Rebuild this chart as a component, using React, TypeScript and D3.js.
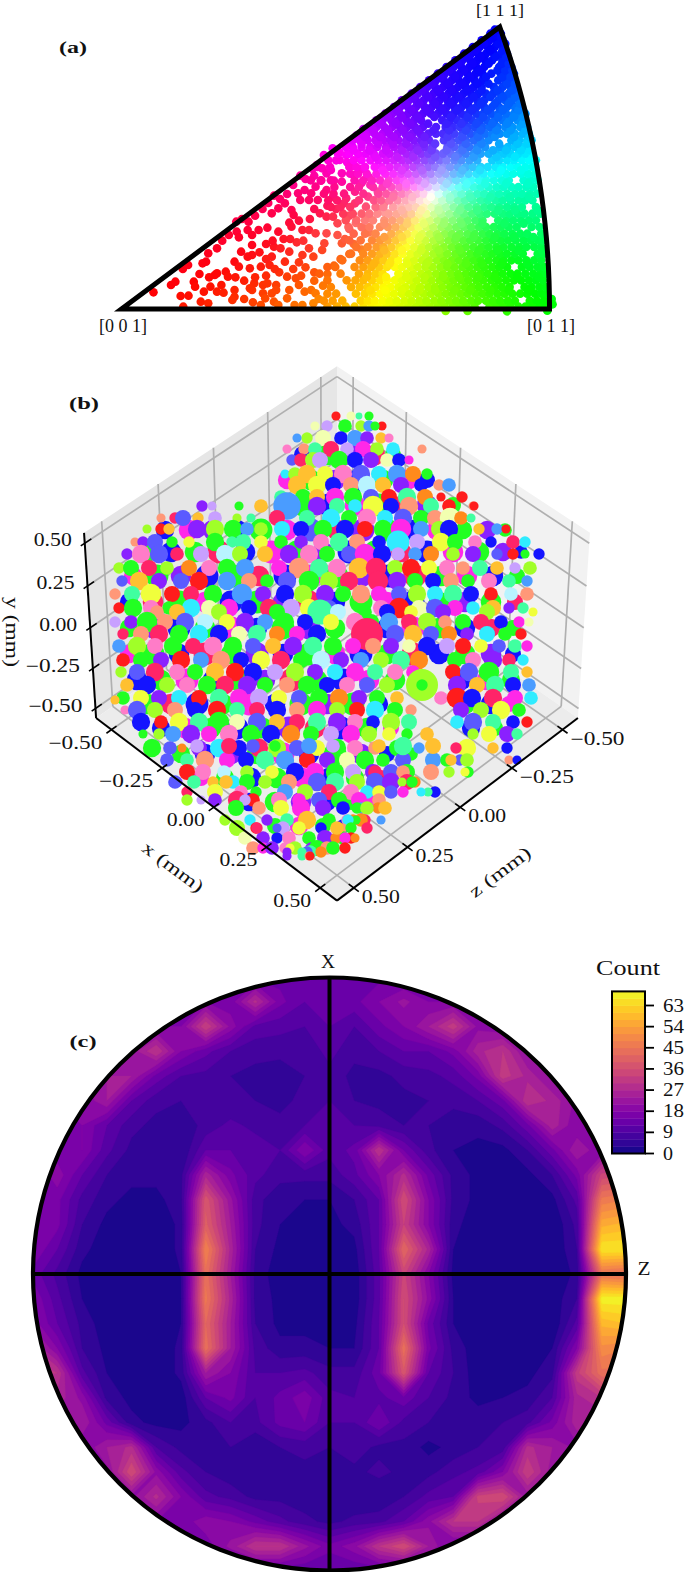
import React from "react";
import * as d3 from "d3";

const FONT = "'Liberation Serif', serif";

// ---------- (a) inverse pole figure: grain directions in stereographic plot units ----------
const ipfDomainX = [0, 977];
const ipfDomainY = [0, 846];
const ipfLabels = ["[0 0 1]", "[0 1 1]", "[1 1 1]"];
const ipfSparse = [
[73,50],[113,72],[123,82],[135,39],[153,40],[141,7],[165,82],[168,67],[188,52],[181,22],[198,17],[203,67],[213,102],[218,107],[228,72],[238,112],[243,97],[218,52],[233,49],[258,57],[258,37],[253,27],[198,167],[193,142],[185,137],[218,182],[263,232],[268,215],[288,237],[298,222],[313,237],[333,244],[358,232],[273,172],[298,192],[298,162],[288,157],[258,142],[268,127],[293,122],[318,127],[338,132],[343,157],[348,187],[363,182],[383,172],[373,142],[303,77],[298,57],[293,62],[323,72],[333,77],[353,72],[378,97],[398,92],[323,47],[343,47],[328,32],[353,57],[383,57],[378,32],[348,22],[358,12],[413,162],[428,182],[438,157],[458,177],[418,52],[433,57],[443,47],[438,17],[413,12],[383,259],[388,247],[413,237],[428,237],[453,287],[468,277],[483,277],[493,257],[443,227],[468,227],[493,222],[503,197],[463,197],[343,287],[358,302],[373,317],[388,297],[403,347],[418,357],[433,347],[443,367],[448,327],[428,327],[408,327],[393,282],[458,422],[468,407],[478,417],[498,447],[513,462],[503,407],[503,382],[468,357],[483,337],[513,332],[533,352],[533,317],[508,317],[563,337],[558,307],[563,277],[740,-6],[790,-6],[880,-7],[972,-5],[982,30],[984,14],
[140,120],[152,132],[230,205],[245,222],[262,262],[275,270],[290,262],[305,280],[322,300],[335,318],[348,340],[362,330],[378,345],[392,372],[408,400],[420,390],[436,420],[446,432],[462,462],[482,482],[498,470],[520,500],[536,520],[552,540],[528,430],[545,450],[515,440],[530,402],[548,420],[565,395],[548,378],[568,372],[585,352],[600,318],[585,300],[600,290],[520,280],[535,258],[550,245],[565,230],[520,240],[510,210],[530,195],[548,178],[520,165],[500,150],[485,130],[470,105],[440,110],[420,125],[405,140],[392,120],[360,110],[330,100],[305,95],[280,85],[260,95],[400,200],[385,210],[415,205],[430,270],[440,300],[405,265],[470,310],[490,300],[440,400],[455,385],[485,385],[405,72],[440,85],[460,70],[450,30],[395,12],[280,30],[300,20],[318,12],[200,95],[178,105],[345,205],[330,195],[315,170],[330,150],[350,120],[370,210],[410,100]
];
const ipfRows: [number, number[]][] = [
[7,[470,492,512,532,552,570,586,604,620,636,654,672,688,704,722,738,756,772,788,806,840,856,872,888,906,922,938,954,968]],
[25,[462,482,504,546,562,578,596,612,628,646,662,680,696,714,730,748,764,780,798,814,832,848,864,882,898,932,948,964]],
[46,[470,490,535,555,572,590,606,622,640,656,672,690,706,724,740,756,774,790,808,824,840,858,874,892,910,926,944,958,970]],
[66,[478,524,544,562,580,598,614,632,648,666,682,700,716,732,750,766,784,800,816,834,852,868,886,920,936,954,968]],
[86,[470,514,534,552,572,590,606,624,640,658,674,692,708,726,742,758,776,792,810,826,844,860,878,896,912,930,946,962]],
[106,[452,500,542,562,580,596,632,650,666,684,700,718,734,752,768,786,802,820,836,854,870,888,904,922,940,956,970]],
[126,[470,488,532,552,570,588,606,624,640,660,676,694,710,728,744,760,778,794,812,828,846,862,880,914,932,950,964]],
[146,[504,544,562,582,598,616,632,652,668,686,702,720,736,754,770,788,804,820,838,856,872,890,906,924,942,958]],
[166,[524,552,572,590,606,624,642,660,676,694,712,728,744,762,778,796,812,830,846,864,880,898,916,950,964]],
[186,[536,562,582,598,616,634,650,668,686,702,718,736,754,770,786,804,822,838,856,872,890,908,924,942,958]],
[206,[520,546,572,590,608,626,644,660,678,694,712,728,746,762,780,796,814,832,848,866,882,900,918,934,950,962]],
[226,[530,556,580,616,634,652,670,686,704,720,738,754,772,790,806,824,840,858,874,892,910,926,958]],
[246,[518,548,566,590,608,626,644,662,678,696,712,730,746,764,782,798,816,832,850,866,884,902,936,954]],
[266,[512,536,556,574,600,618,636,654,670,688,704,722,738,756,774,790,808,824,860,878,894,912,930,946]],
[286,[506,528,548,566,584,610,628,646,662,680,696,714,730,748,766,782,800,818,834,852,870,886,904,920,938,956]],
[306,[478,500,522,580,598,620,638,656,672,690,708,724,740,758,776,792,810,828,844,862,880,896,914,946]],
[326,[472,492,542,576,592,612,630,648,664,682,698,716,732,750,768,784,802,820,836,854,870,888,906,922,938]],
[346,[462,484,508,552,586,604,622,640,656,674,690,708,724,742,760,776,794,812,828,846,862,880,898,914,932,948]],
[366,[486,522,542,574,596,616,634,650,668,684,700,718,736,752,770,786,804,820,838,856,872,890,906,924,940]],
[386,[432,456,478,532,552,572,590,610,628,644,662,678,696,712,730,748,764,782,798,816,832,850,868,884,918,934,950]],
[406,[522,540,560,582,602,620,638,654,672,690,706,724,740,758,774,792,810,826,844,860,878,894,912,928,944]],
[426,[448,476,520,536,556,578,594,612,630,648,666,682,700,716,734,750,768,786,802,820,836,854,870,888,904,922,938]],
[446,[472,490,530,548,568,586,604,622,640,656,674,692,708,726,742,760,776,794,812,846,862,880,896,914,930,946]],
[466,[494,520,540,558,576,596,612,630,650,666,684,700,718,734,752,770,786,804,820,838,856,872,888,906,922,938]],
[486,[512,528,548,568,584,604,622,640,658,674,692,710,744,760,778,794,812,830,864,882,898,916,932]],
[506,[528,544,562,580,598,614,632,650,668,684,702,736,752,770,786,804,820,838,890,908,926,936]],
[526,[546,560,578,596,612,630,648,664,682,700,718,734,760,778,796,812,830,846,864,880,898,916,930]],
[546,[566,582,600,618,636,652,670,688,718,740,756,772,790,806,824,840,858,876,892,910,926]],
[566,[582,596,616,632,650,668,684,732,750,766,784,800,818,834,852,870,886,904,920]],
[586,[602,618,636,654,670,688,706,722,742,758,776,792,810,826,844,860,878,896,912,922]],
[606,[622,636,654,672,692,708,726,742,760,776,794,810,828,846,862,880,898,914]],
[626,[640,656,672,690,710,726,744,760,778,794,812,828,860,876,892,908]],
[646,[662,676,694,712,728,746,762,780,798,814,832,848,866,884,902]],
[666,[682,698,716,734,750,768,786,804,822,850,870,888,900]],
[686,[702,718,736,754,770,788,806,824,860,876,892]],
[706,[722,738,756,772,790,808,824,844,866,884,896]],
[726,[742,758,776,794,810,828,862,878,890]],
[746,[762,778,796,812,830,846,870,884]],
[766,[782,798,814,832,850,866,880]],
[786,[802,818,836,852,872]],
[806,[822,840,856,870]],
[826,[842,856,866]],
[838,[852,860]],
// further grains seen between the rows above
[56,[568,602,640,680,716,760,796,842,884,930]],
[96,[560,604,650,692,734,770,814,852,904,952]],
[136,[576,612,652,696,744,786,822,868,926]],
[176,[600,640,684,724,772,816,858,906,960]],
[216,[600,640,680,724,764,804,852,896,940]],
[256,[600,652,690,736,776,824,874,918]],
[296,[640,684,724,772,812,860,898,950]],
[336,[620,664,706,750,796,842,886,930]],
[376,[606,650,692,742,788,830,878,928]],
[416,[596,640,686,730,778,818,866,912]],
[456,[580,630,666,716,762,804,856,898,940]],
[476,[530,566,604,640,676,708,742,778,812,848,878,912,932]],
[496,[548,586,620,650,690,716,752,786,822,862,904,926]],
[516,[556,590,622,658,692,744,778,814,852,896,932]],
[536,[574,608,642,676,712,748,786,820,856,888,922]],
[556,[590,626,660,700,742,776,810,846,880,916]],
[576,[608,640,676,714,752,790,826,860,896,918]],
[596,[628,662,696,732,766,800,836,870,906]],
[616,[648,680,716,752,786,820,852,884,910]],
[636,[666,700,736,770,804,842,870,898]],
[656,[686,722,754,788,822,858,892]],
[676,[708,744,778,812,838,880,898]],
[696,[728,762,796,832,870,888]],
[716,[748,782,816,858,876,892]],
[736,[768,802,838,868,884]],
[756,[788,820,854,878]],
[776,[808,842,870]],
[796,[828,860,876]],
[816,[850,866]]
];

// ---------- (b) grains in the viewing plane of the 3D view ----------
const axisTicks = [-0.5, -0.25, 0, 0.25, 0.5];
const tickLabels = ["\u22120.50", "\u22120.25", "0.00", "0.25", "0.50"];
const grainPalette = ["#1414ff","#22ff22","#a0ff28","#ff28e8","#8a20ff","#ff2468","#ff1c1c","#ff8a1c","#f0ff3c","#30ecff","#4a9cff","#5a5aff","#40ffa0","#ff7cc8","#c8a0ff","#f2ffb0","#ff9878","#b8f4ff","#ffc030"];
// back layer of grains seen between the front ones: plane v, then triples plane u, radius, class
const backGrainRows: [number, number[]][] = [
[175,[-34,8,0,-10,9,1,14,9,4,38,9,5,56,7,1]],
[150,[-50,8,3,-26,9,1,-2,9,4,22,10,0,46,9,1,70,9,3,90,7,0]],
[125,[-34,10,1,-8,10,0,18,9,3,42,10,1,66,9,5,90,9,4,116,7,1]],
[100,[-172,8,0,-148,9,3,-124,9,4,-100,9,0,-76,10,1,-50,9,3,-26,10,11,0,9,5,26,10,4,50,10,1,76,9,0,100,9,3,126,8,1,150,8,4,168,6,1]],
[78,[-190,9,1,-166,9,0,-142,9,1,-118,10,5,-92,9,0,-66,10,3,-40,10,1,-14,9,4,12,10,0,38,10,1,64,9,5,90,10,0,116,9,3,142,9,1,166,8,4,184,6,0]],
[54,[-204,8,3,-180,10,1,-156,9,4,-130,10,0,-104,10,1,-78,9,5,-52,10,0,-26,10,3,0,10,1,26,9,4,52,10,0,78,10,5,104,9,1,130,9,3,156,9,0,180,7,1]],
[28,[-208,8,0,-184,9,5,-158,10,1,-132,9,3,-106,10,0,-80,10,1,-54,9,4,-28,10,5,-2,9,0,24,10,1,50,9,3,76,10,0,102,9,1,128,9,4,154,9,1,178,7,5]],
[2,[-208,8,1,-184,9,4,-158,10,0,-132,9,1,-106,10,3,-80,9,0,-54,10,1,-28,10,4,-2,9,1,50,9,0,76,10,3,102,9,1,128,9,0,154,8,5,176,7,1]],
[-24,[-208,8,3,-184,10,1,-158,9,0,-132,10,5,-106,9,1,-80,10,4,-54,9,0,-28,10,1,-2,9,3,24,10,0,50,9,1,76,10,5,102,9,0,128,9,1,154,9,4,176,7,0]],
[-50,[-200,9,0,-176,9,1,-150,10,3,-124,9,0,-98,10,1,-72,9,4,-46,10,5,-20,9,1,6,10,0,32,9,3,58,9,1,124,9,0,150,9,3,174,8,1]],
[-74,[-190,9,1,-166,9,5,-140,10,0,-114,9,1,-88,10,3,-62,9,0,-36,10,1,-10,9,4,16,10,1,42,8,0,128,9,1,154,9,0,172,7,3]],
[-98,[-176,8,0,-152,9,3,-126,9,1,-100,10,0,-74,9,1,-48,10,4,-22,9,5,4,10,0,30,9,1,54,7,3,134,8,0,158,7,1]],
[-124,[-156,8,1,-132,9,0,-106,9,4,-80,9,1,-54,10,3,-28,9,0,-2,10,1,24,9,4,50,7,0,74,6,1]],
[-148,[-136,7,3,-112,8,1,-86,9,0,-60,9,1,-34,9,3,-8,9,0,18,8,1,44,7,5]],
[-172,[-88,8,0,-62,9,1,-36,9,4,-10,8,0,14,7,1,34,6,3]],
[-196,[-62,7,1,-38,8,3,-14,7,1,6,6,0]]
];
// front layer: plane v, then triples plane u, grain radius, orientation class
const grainRows: [number, number[]][] = [
[214,[-1,4,6,14,4,15,32,4,1,22,3,12]],
[204,[-10,5,14,8,6,1,-22,4,15,24,5,2,32,5,10,45,4,6,38,4,1]],
[192,[-30,5,2,-14,7,15,4,6,0,18,7,10,30,6,4,44,5,18,-40,4,10,52,4,13]],
[181,[-33,5,16,-22,6,12,-6,7,5,10,6,14,26,7,3,40,6,2,56,6,9,85,4,16,-50,4,13]],
[170,[-45,5,11,-36,6,5,-24,7,2,-17,7,14,2,8,1,18,7,0,34,7,4,50,6,15,62,6,0,72,4,3]],
[156,[-52,4,9,-42,6,2,-30,8,18,-12,7,8,6,8,13,24,8,11,42,7,9,60,8,10,76,7,7,90,5,1]],
[145,[-40,8,18,-20,8,8,-4,7,0,14,7,16,30,8,17,46,7,18,64,7,4,84,6,0,102,5,16,112,6,10]],
[133,[-56,6,12,-34,7,1,-20,7,18,-2,8,3,16,8,1,34,7,11,52,7,6,70,8,12,88,7,7,104,4,6,125,5,6]],
[124,[-135,5,4,-125,4,14,-98,4,1,-76,6,18,-50,12,10,-20,8,4,0,7,12,18,6,9,36,9,8,54,7,0,72,8,16,94,7,12,112,6,6,136,4,16,137,4,6]],
[112,[-162,5,5,-176,4,16,-154,7,11,-139,5,18,-122,6,14,-100,4,2,-86,4,12,-60,7,5,-30,7,12,-6,8,9,12,7,1,30,8,13,48,7,9,66,8,11,84,7,1,98,7,16,113,9,15,124,6,7,134,4,12]],
[101,[-176,5,6,-190,4,2,-168,5,18,-140,8,4,-122,8,2,-104,8,1,-90,6,10,-76,6,2,-55,7,9,-36,7,0,-14,8,1,8,8,0,28,7,6,46,8,1,64,9,3,84,7,10,102,7,2,112,8,0,142,5,18,160,5,10,169,4,6]],
[88,[-202,4,16,-194,5,4,-182,7,11,-165,5,1,-148,5,8,-122,8,1,-105,5,12,-94,7,12,-76,6,8,-56,6,1,-36,6,4,-16,7,13,2,8,12,20,7,16,42,6,0,61,10,9,80,7,14,104,8,8,118,7,1,138,6,13,154,5,0,176,6,5,188,5,9]],
[76,[-210,5,4,-196,8,13,-178,8,11,-160,6,5,-136,7,14,-112,8,17,-97,7,2,-72,7,18,-48,8,4,-28,8,13,-10,7,1,12,7,11,28,9,3,45,8,0,61,6,14,78,6,10,94,7,7,116,6,2,136,7,4,160,5,11,176,5,6,202,5,0,188,4,1]],
[62,[-218,5,2,-206,7,1,-188,7,5,-170,6,2,-148,7,7,-128,7,13,-110,8,1,-92,8,10,-38,9,16,-58,7,3,-18,8,12,0,8,13,22,9,18,39,9,5,58,7,2,74,8,6,92,7,8,110,7,13,126,6,16,143,7,12,160,6,18,178,5,14,193,6,2]],
[49,[-215,5,11,-198,8,18,-178,7,4,-156,7,11,-138,8,6,-110,8,10,-88,7,16,-70,6,1,-50,8,11,-28,9,1,-8,8,2,12,8,5,41,9,5,60,8,4,78,7,1,96,7,0,114,7,16,131,6,1,152,7,13,172,6,12,190,5,10]],
[36,[-222,5,16,-205,7,12,-186,9,8,-165,7,6,-146,7,5,-124,8,1,-95,9,10,-74,7,4,-52,8,0,-34,8,2,-12,8,4,6,7,1,24,8,16,42,7,3,62,7,11,80,8,2,98,7,9,116,8,12,134,7,0,154,6,6,174,6,17,190,6,16]],
[22,[-218,5,6,-204,8,1,-186,7,13,-168,6,1,-146,8,9,-128,7,15,-108,8,3,-88,7,0,-68,8,5,-46,8,14,-28,8,8,-8,7,11,44,7,13,62,9,6,82,7,15,98,8,11,118,7,3,136,6,9,156,7,18,172,5,4,186,5,12]],
[18,[-180,6,16,-160,7,18,-118,7,2,-60,7,1,-17,11,12,1,7,17,28,6,1,50,7,0,74,6,8,106,7,4,150,7,2,196,4,8]],
[8,[-222,5,14,-206,6,4,-190,9,1,-172,7,16,-152,8,11,-132,7,17,-110,7,8,-92,8,4,-72,7,10,-52,8,1,-32,7,0,-6,7,8,18,8,13,34,7,1,52,8,10,72,7,5,90,8,2,108,6,16,126,7,1,144,7,5,164,6,0,182,5,3,192,4,15]],
[-4,[-214,5,5,-196,7,16,-178,8,5,-158,8,1,-138,8,9,-118,8,0,-98,7,15,-80,8,12,-60,7,7,-40,7,3,-20,8,0,30,14,5,58,8,11,76,8,18,94,7,11,112,7,7,130,6,4,150,7,9,168,6,1,184,5,6]],
[-16,[-218,6,10,-200,8,2,-182,7,13,-164,8,1,-144,7,5,-124,8,13,-104,8,1,-84,7,11,-64,7,18,-44,8,4,-24,8,12,-4,8,1,16,7,3,36,7,16,54,7,4,72,6,15,90,8,0,110,7,14,126,7,6,144,6,8,162,6,11,178,6,12,190,5,3]],
[-30,[-214,6,6,-196,7,1,-176,7,4,-156,8,6,-136,7,10,-116,8,16,-96,7,0,-76,8,8,-56,8,5,-36,7,1,-16,8,17,4,7,4,24,7,10,44,7,2,64,8,12,82,8,7,118,7,1,136,7,13,156,8,4,172,6,5,186,5,9]],
[-42,[-216,5,2,-200,7,11,-182,8,5,-160,7,13,-142,7,1,-122,8,18,-102,8,6,-84,8,0,-62,7,14,-42,8,2,-22,7,4,-2,7,9,18,8,3,38,7,12,58,7,13,76,6,3,116,7,6,132,8,11,152,9,1,174,7,12,190,5,18]],
[-55,[-210,6,18,-190,8,0,-170,7,2,-150,7,13,-130,8,1,-112,8,5,-90,8,4,-72,7,1,-50,7,16,-30,8,1,-10,7,0,10,7,13,30,7,11,50,7,2,85,14,2,85,5,1,120,8,4,140,7,18,158,8,12,176,7,0,192,6,10]],
[-68,[-214,6,1,-196,7,8,-178,7,4,-158,7,9,-138,7,6,-118,8,12,-98,8,3,-78,8,14,-58,7,8,-38,7,11,-18,8,1,2,8,7,22,7,4,40,7,1,60,6,18,104,6,13,120,9,6,135,8,0,156,8,5,178,7,3,194,6,9]],
[-80,[-212,4,13,-200,8,11,-182,7,2,-162,7,16,-142,7,0,-120,8,6,-100,7,12,-80,7,5,-60,8,0,-40,7,16,-20,8,3,0,7,2,20,7,6,38,8,9,58,7,1,74,5,16,124,7,4,144,7,2,164,8,8,182,6,1]],
[-70,[-222,4,18]],
[-92,[-196,8,0,-176,6,6,-158,8,8,-138,8,12,-118,9,1,-100,7,15,-80,8,11,-60,7,18,-40,7,5,-20,8,12,0,8,4,18,7,13,36,6,0,54,8,2,72,7,12,120,6,9,136,8,11,156,7,12,176,6,0,190,5,6]],
[-104,[-194,4,1,-178,5,2,-164,7,10,-146,8,4,-128,7,3,-108,8,13,-86,8,1,-66,8,0,-46,8,7,-26,7,1,-6,7,14,14,8,3,32,7,2,52,6,8,70,5,1,90,6,18,136,5,2,152,7,8,170,7,4,180,5,12]],
[-118,[-185,8,1,-167,6,11,-155,4,7,-138,7,4,-118,8,9,-98,7,0,-78,8,5,-60,8,2,-40,7,11,-20,7,8,0,8,1,18,7,13,38,6,16,60,7,1,82,5,10,130,8,8,119,5,5,156,5,18,170,5,0]],
[-130,[-170,6,11,-150,6,12,-132,8,16,-110,7,3,-91,7,0,-72,8,12,-52,8,10,-30,7,6,-10,7,4,10,7,15,28,8,1,46,6,1,66,7,11,96,7,10,110,6,1,123,5,11,130,6,2,114,5,18,172,4,16,180,4,0]],
[-142,[-150,7,6,-134,7,13,-113,6,17,-90,6,2,-65,6,8,-42,8,0,-22,8,3,-2,8,1,16,7,14,36,7,4,54,7,11,70,7,1,94,7,16,38,6,5,66,6,16,112,5,2,131,5,1,128,4,8]],
[-116,[-140,6,14,-108,7,5,-84,6,11,-62,5,1,-28,7,10,-4,6,14,42,6,18,66,8,12,96,7,18]],
[-152,[-159,4,4,-162,6,11,-143,6,12,-124,5,18,-104,6,9,-90,7,1,-111,6,18,-72,6,2,-48,7,16,-20,8,11,-2,8,12,20,7,2,42,6,6,38,8,11,54,8,4,70,7,5,78,5,7,65,4,2,75,5,1]],
[-162,[-150,5,5,-122,7,8,-96,6,13,-81,5,1,-52,7,10,-32,7,2,-8,7,5,14,7,13,30,6,9,42,6,8,54,6,11,66,5,3,98,5,0,91,4,12,84,4,9]],
[-170,[-100,8,5,-122,6,4,-84,6,6,-58,7,13,-38,6,3,-18,7,11,2,7,1,22,7,3,42,6,16,-150,5,2,-136,4,14,-92,5,14]],
[-178,[-101,7,1,-78,6,16,-56,7,8,-36,8,3,-14,7,4,6,6,0,24,5,10,41,5,7,48,6,18,20,5,1,32,4,4,30,6,2]],
[-190,[-112,5,2,-87,5,9,-70,5,4,-50,6,12,-30,8,18,-8,6,1,10,5,13,16,5,7,28,5,5,24,6,7,19,4,1,44,4,10,11,5,9]],
[-198,[-81,5,6,-100,7,2,-54,6,14,-38,6,8,-16,5,0,6,4,16,14,5,1]],
[-208,[-74,6,4,-92,6,15,-60,5,0,-48,6,13,-28,6,1,-12,7,4,6,6,1,-1,5,7,14,5,6,8,5,3,18,4,7]],
[-198,[-80,5,5,-60,4,11,0,6,18,30,5,5]],
[-218,[-84,6,16,-74,5,3,-65,6,4,-52,5,13,-42,6,2,-26,5,4,-20,7,1,-10,6,16,-4,6,1,-47,4,8,8,5,6]],
[-222,[-27,6,12,-30,5,11,-16,5,7,-50,4,4,-35,4,12]],
[-226,[-50,4,4,-35,4,12,-28,4,16,-27,4,6]]
];

// ---------- (c) pole figure counts on a regular grid ----------
const levelStep = 3;
const levelMax = 69;
const barTicks = [0, 9, 18, 27, 36, 45, 54, 63];
const gridCols = 25;
const poleCounts = [
14,14,14,14,14,14,14,14,14,14,14,14,14,14,14,14,14,14,14,14,14,14,14,14,14,
16,16,16,16,16,16,16,18,16,28,16,12,15,14,18,22,18,18,16,16,16,16,16,16,16,
18,18,18,18,18,18,18,33,20,11,10,9,12,9,14,18,24,32,20,18,18,18,18,18,18,
22,22,22,22,22,30,18,13,9,7,7,7,10,7,9,12,12,16,26,30,20,20,20,20,20,
20,20,20,24,24,14,9,8,6,5,4,6,8,5,5,7,8,10,16,32,26,20,20,20,20,
18,18,18,24,12,7,6,7,6,6,5,7,9,6,5,5,6,7,9,14,30,26,20,20,20,
16,14,18,12,7,5,4,7,10,8,7,9,9,9,8,6,6,4,4,7,14,26,18,18,18,
16,16,18,10,5,3,3,12,12,11,9,18,10,13,30,15,7,3,2,2,6,14,24,18,18,
14,20,12,6,4,4,5,26,16,10,7,7,7,11,18,28,14,5,2,2,2,6,16,34,36,
16,16,8,4,2,2,5,38,22,7,4,3,3,6,12,36,18,5,2,1,1,2,10,46,48,
18,16,6,2,0,0,4,40,24,7,3,2,2,4,12,33,18,4,1,0,0,0,7,56,58,
18,12,4,1,0,0,4,48,26,6,2,1,1,2,12,42,26,3,0,0,0,0,6,66,66,
14,8,2,0,0,0,3,44,24,5,1,0,0,1,11,34,18,2,0,0,0,0,4,44,42,
18,10,3,0,0,0,3,46,26,5,2,1,1,1,11,36,20,3,0,0,0,1,6,68,68,
20,12,5,1,0,0,3,42,24,6,2,2,2,2,12,36,14,3,0,0,0,0,10,58,60,
28,18,6,2,0,0,4,44,24,8,4,4,3,3,12,44,16,5,1,0,1,3,18,50,48,
32,30,10,3,1,0,4,24,18,9,9,10,7,7,14,38,12,6,1,1,2,5,32,44,44,
22,26,20,5,2,0,1,12,16,9,13,17,10,9,11,14,9,5,2,3,4,9,26,30,30,
20,22,24,14,4,2,2,5,9,8,13,15,9,9,15,8,6,5,5,6,8,16,26,24,24,
18,18,18,24,28,9,5,5,6,3,6,7,6,8,5,5,2,4,6,7,28,24,20,20,20,
20,20,20,20,36,20,10,6,4,5,4,5,4,5,7,5,5,8,10,18,33,22,20,20,20,
20,20,20,20,20,28,18,10,8,5,5,4,3,3,3,6,10,12,34,36,22,20,20,20,20,
18,18,18,18,18,18,16,20,18,14,10,7,5,7,8,12,20,30,30,20,18,18,18,18,18,
16,16,16,16,16,16,16,16,22,30,30,22,16,20,30,36,24,16,16,16,16,16,16,16,16,
12,12,12,12,12,12,12,12,12,12,12,12,12,12,12,12,12,12,12,12,12,12,12,12,12
];

// ---------- scales ----------
const ipfX = d3.scaleLinear(ipfDomainX, [121.5, 549.5]);
const ipfY = d3.scaleLinear(ipfDomainY, [309, 27]);
const planeU = d3.scaleLinear([-240, 240], [97, 577]);
const planeV = d3.scaleLinear([-270, 270], [900, 360]);
const grainR = d3.scaleLinear([0, 14], [0, 16]);
const unitX = d3.scaleLinear([-0.577, 0.577], [-0.5, 0.5]);
const unitY = d3.scaleLinear([-0.56, 0.56], [-0.5, 0.5]);
const poleX = d3.scaleLinear([0.5, 24.5], [32.5, 626.5]);
const poleY = d3.scaleLinear([0.5, 24.5], [977, 1571]);
const barY = d3.scaleLinear([0, 63], [1153.5, 1005.5]);

function project(nx: number, ny: number, nz: number): [number, number] {
  const e = Math.PI / 4;
  const Xc = (nx - nz) / Math.SQRT2;
  const f = (nx + nz) / Math.SQRT2;
  const h = ny * 0.75;
  const Yc = h * Math.cos(e) - f * Math.sin(e);
  const Zc = h * Math.sin(e) + f * Math.cos(e);
  const w = 1 / (1 - Zc / 10.9);
  return [337 + 349 * Xc * w, 627.7 - 349 * Yc * w];
}
const poly = (pts: [number, number][]) => pts.map((p) => p.join(",")).join(" ");

// IPF colour key: hue by direction around the white point, lightness by distance from it
const hueAngles = [160, 117, 44, -20, -68, -154, -200];
const hueValues = [0, 60, 120, 180, 240, 300, 360];
const hueOf = d3.scaleLinear(hueAngles, hueValues);
function inside(px: number, py: number) {
  const sx = (ipfX.invert(px) / 977) * 0.4142;
  const sy = (ipfY.invert(py) / 846) * 0.366;
  return sy >= 0 && sx >= sy * 1.0 - 0.0001 && (sx + 1) * (sx + 1) + sy * sy <= 2;
}
function ipfColor(xv: number, yv: number) {
  const cx = 432, cy = 195;
  const px = ipfX(xv), py = ipfY(yv);
  const dx = px - cx, dy = py - cy;
  const d = Math.hypot(dx, dy);
  if (d < 0.5) return "#ffffff";
  let a = (Math.atan2(dy, dx) * 180) / Math.PI;
  if (a > 160) a -= 360;
  let edge = 0;
  while (edge < 420 && inside(cx + (dx / d) * edge, cy + (dy / d) * edge)) edge += 3;
  const t = Math.min(1, d / Math.max(edge, 1));
  const l = 0.5 + 0.5 * Math.pow(1 - t, 3);
  return d3.hsl(hueOf(a), 1, l).formatHex();
}

function T(p: any) {
  const { w, children, ...rest } = p;
  return (
    <text fontFamily={FONT} fontSize={18} fill="#111" dominantBaseline="central" textLength={w} lengthAdjust="spacingAndGlyphs" {...rest}>
      {children}
    </text>
  );
}

function PanelA() {
  const pts: [number, number][] = [...ipfSparse] as any;
  ipfRows.forEach(([y, xs]) => xs.forEach((x) => pts.push([x, y])));
  const arc = d3.range(0, 21).map((i) => {
    const sy = (0.366 * i) / 20;
    const sx = Math.sqrt(2 - sy * sy) - 1;
    return [ipfX((sx / 0.4142) * 977), ipfY((sy / 0.366) * 846)] as [number, number];
  });
  const outline = [[ipfX(0), ipfY(0)] as [number, number], ...arc];
  return (
    <g>
      {pts.map(([x, y], i) => (
        <circle key={i} cx={ipfX(x)} cy={ipfY(y)} r={4.3} fill={ipfColor(x, y)} />
      ))}
      <polygon points={poly(outline)} fill="none" stroke="#000" strokeWidth={5} strokeLinejoin="miter" />
      <T x={123} y={326} textAnchor="middle" w={48}>{ipfLabels[0]}</T>
      <T x={551} y={326} textAnchor="middle" w={48}>{ipfLabels[1]}</T>
      <T x={500} y={10} textAnchor="middle" w={48} fontSize={17}>{ipfLabels[2]}</T>
      <T x={73} y={47} textAnchor="middle" w={28} fontWeight="bold" fontSize={17}>(a)</T>
    </g>
  );
}

function PanelB() {
  const E = 0.5;
  const leftWall = [project(-E, -E, E), project(-E, E, E), project(-E, E, -E), project(-E, -E, -E)];
  const rightWall = [project(-E, -E, -E), project(-E, E, -E), project(E, E, -E), project(E, -E, -E)];
  const floor = [project(-E, -E, E), project(-E, -E, -E), project(E, -E, -E), project(E, -E, E)];
  const grid: [number, number][][] = [];
  axisTicks.forEach((t) => {
    const nx = unitX(t), ny = unitY(t);
    grid.push([project(-E, -E, nx), project(-E, E, nx)]);
    grid.push([project(-E, ny, E), project(-E, ny, -E)]);
    grid.push([project(nx, -E, -E), project(nx, E, -E)]);
    grid.push([project(-E, ny, -E), project(E, ny, -E)]);
    grid.push([project(nx, -E, E), project(nx, -E, -E)]);
    grid.push([project(-E, -E, nx), project(E, -E, nx)]);
  });
  const axes = [
    [project(-E, E, E), project(-E, -E, E)],
    [project(-E, -E, E), project(E, -E, E)],
    [project(E, -E, E), project(E, -E, -E)],
  ];
  const drawRows = (rows: [number, number[]][], tag: string) =>
    rows.map(([v, t], ri) =>
      d3.range(0, t.length, 3).map((k) => (
        <circle key={tag + ri + "-" + k} cx={planeU(t[k])} cy={planeV(v)} r={grainR(t[k + 1])} fill={grainPalette[t[k + 2]]} />
      ))
    );
  return (
    <g>
      <polygon points={poly(leftWall)} fill="#e6e6e6" />
      <polygon points={poly(rightWall)} fill="#f2f2f2" />
      <polygon points={poly(floor)} fill="#ececec" />
      {grid.map((g, i) => (
        <line key={i} x1={g[0][0]} y1={g[0][1]} x2={g[1][0]} y2={g[1][1]} stroke="#b0b0b0" strokeWidth={1.7} />
      ))}
      {drawRows(backGrainRows, "b")}
      {drawRows(grainRows, "f")}
      {axes.map((a, i) => (
        <line key={i} x1={a[0][0]} y1={a[0][1]} x2={a[1][0]} y2={a[1][1]} stroke="#000" strokeWidth={2} />
      ))}
      {axisTicks.map((t, i) => {
        const ny = unitY(t), nx = unitX(t);
        const yA = project(-E, ny, E - 0.025), yB = project(-E, ny, E + 0.015);
        const xA = project(nx, -E, E - 0.02), xB = project(nx, -E, E + 0.02);
        const zA = project(E - 0.02, -E, nx), zB = project(E + 0.02, -E, nx);
        const yP = project(-E, ny, E), xP = project(nx, -E, E), zP = project(E, -E, nx);
        const lw = tickLabels[i].length > 4 ? 54 : 38;
        return (
          <g key={i}>
            <line x1={yA[0]} y1={yA[1]} x2={yB[0]} y2={yB[1]} stroke="#000" strokeWidth={1.6} />
            <line x1={xA[0]} y1={xA[1]} x2={xB[0]} y2={xB[1]} stroke="#000" strokeWidth={1.6} />
            <line x1={zA[0]} y1={zA[1]} x2={zB[0]} y2={zB[1]} stroke="#000" strokeWidth={1.6} />
            <T x={yP[0] - 13} y={yP[1] - 3} textAnchor="end" w={lw}>{tickLabels[i]}</T>
            <T x={xP[0] - 9} y={xP[1] + 13} textAnchor="end" w={lw}>{tickLabels[i]}</T>
            <T x={zP[0] + 8} y={zP[1] + 9} textAnchor="start" w={lw}>{tickLabels[i]}</T>
          </g>
        );
      })}
      <T transform="translate(173,867) rotate(37)" textAnchor="middle" w={72}>x (mm)</T>
      <T transform="translate(500,872) rotate(-37)" textAnchor="middle" w={72}>z (mm)</T>
      <T transform="translate(12,632) rotate(90)" textAnchor="middle" w={70}>y (mm)</T>
      <T x={84} y={403} textAnchor="middle" w={30} fontWeight="bold" fontSize={17}>(b)</T>
    </g>
  );
}

function PanelC() {
  const thresholds = d3.range(0, levelMax, levelStep);
  const rows = poleCounts.length / gridCols;
  const contours = d3.contours().size([gridCols, rows]).thresholds(thresholds)(poleCounts);
  const path = d3.geoPath(
    d3.geoTransform({
      point(x: number, y: number) {
        (this as any).stream.point(poleX(x), poleY(y));
      },
    })
  );
  const color = (lo: number) => d3.interpolatePlasma((lo + levelStep / 2) / levelMax);
  const cx = 329.5, cy = 1274, R = 296.5;
  return (
    <g>
      <defs>
        <clipPath id="poleClip"><circle cx={cx} cy={cy} r={R} /></clipPath>
      </defs>
      <g clipPath="url(#poleClip)">
        {contours.map((c: any, i: number) => (
          <path key={i} d={path(c) || ""} fill={color(c.value)} stroke={color(c.value)} strokeWidth={0.3} />
        ))}
      </g>
      <circle cx={cx} cy={cy} r={R} fill="none" stroke="#000" strokeWidth={4.2} />
      <line x1={cx - R} y1={cy} x2={cx + R} y2={cy} stroke="#000" strokeWidth={4} />
      <line x1={cx} y1={cy - R} x2={cx} y2={cy + R} stroke="#000" strokeWidth={4} />
      <T x={328} y={962} textAnchor="middle" w={14}>X</T>
      <T x={644} y={1269} textAnchor="middle" w={13}>Z</T>
      <T x={83} y={1041} textAnchor="middle" w={27} fontWeight="bold" fontSize={17}>(c)</T>
      {thresholds.map((t) => (
        <rect key={t} x={612} y={barY(t + levelStep)} width={33} height={barY(t) - barY(t + levelStep) + 0.4} fill={color(t)} />
      ))}
      <rect x={612} y={barY(levelMax)} width={33} height={barY(0) - barY(levelMax)} fill="none" stroke="#000" strokeWidth={2} />
      {barTicks.map((t) => (
        <g key={t}>
          <line x1={645} x2={654} y1={barY(t)} y2={barY(t)} stroke="#000" strokeWidth={1.8} />
          <T x={663} y={barY(t)} textAnchor="start" w={t < 10 ? 10 : 21}>{t}</T>
        </g>
      ))}
      <T x={628} y={968} textAnchor="middle" w={64} fontSize={20}>Count</T>
    </g>
  );
}

export default function App() {
  return (
    <svg width={685} height={1572} viewBox="0 0 685 1572" style={{ position: "absolute", left: 0, top: 0, display: "block", background: "#fff" }}>
      <PanelB />
      <PanelA />
      <PanelC />
    </svg>
  );
}
